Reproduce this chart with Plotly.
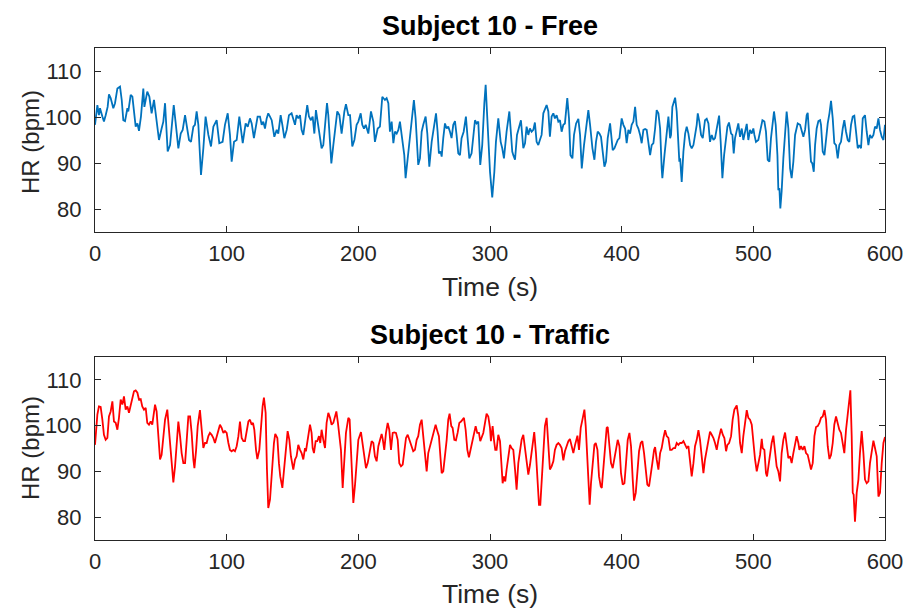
import plotly.graph_objects as go

# ---------------- data ----------------
free_t = [0, 1.8, 3.0, 3.8, 5.6, 6.8, 8.1, 9.6, 10.6, 11.9, 13.9, 15.2, 17.0, 19.0, 20.3, 21.5, 22.8, 24.6, 25.3, 27.1,
          28.4, 29.9, 30.9, 32.2, 33.4, 34.9, 36.7, 37.5, 38.5, 39.7, 41.3, 43.0, 44.8, 46.1, 47.6, 48.6, 50.6, 51.9, 53.2, 54.4,
          55.2, 57.0, 58.7, 59.8, 61.3, 63.3, 65.1, 66.6, 68.4, 69.6, 71.4, 72.9, 74.7, 75.9, 77.2, 78.5, 79.7, 80.5, 82.3, 84.0,
          86.1, 88.1, 89.9, 92.4, 94.4, 96.9, 98.7, 100.8, 102.5, 103.8, 105.6, 107.6, 109.6, 112.2, 114.4, 116.0, 117.7,
          119.0, 120.7, 122.0, 123.5, 125.3, 126.6, 127.8, 129.1, 130.4, 131.6, 132.9, 134.2, 136.2, 138.0, 139.2, 141.0, 142.3,
          143.8, 145.6, 147.3, 149.3, 150.6, 151.9, 153.1, 154.4, 155.7, 156.9, 158.2, 159.5, 161.2, 162.5, 164.0, 165.3, 166.6,
          167.8, 169.1, 170.9, 172.1, 173.4, 174.7, 176.2, 177.2, 178.5, 179.5, 181.0, 182.8, 184.0, 185.6, 187.3, 189.4, 190.6,
          192.4, 193.7, 195.4, 197.0, 198.7, 200.0, 201.8, 203.0, 204.3, 205.6, 207.6, 209.6, 211.4, 212.6, 214.7, 216.4, 218.2,
          220.2, 221.5, 222.8, 224.0, 225.3, 226.6, 227.8, 229.1, 230.4, 231.6, 232.9, 234.9, 235.9, 237.5,
          239.2, 240.5, 242.2, 243.5, 244.8, 245.5, 246.8, 248.1, 249.3, 251.1, 252.4, 253.9, 255.7, 257.7, 259.0, 260.2, 261.2,
          262.5, 263.3, 264.5, 265.8, 267.1, 268.3, 269.6, 270.8, 272.1, 273.4, 274.6, 275.9, 277.2, 278.4, 280.0, 281.7, 283.0,
          284.3, 286.0, 287.3, 288.6, 289.8, 291.1, 292.6, 294.1, 295.7, 296.7, 297.7, 298.7, 300.0, 301.7, 303.3, 304.5, 306.3,
          308.1, 309.3, 310.6, 312.6, 314.7, 315.9, 316.9, 317.7, 319.0, 320.5, 321.7, 323.5, 325.3, 326.6, 327.8, 329.1, 330.3,
          331.6, 332.9, 334.1, 335.4, 336.7, 337.9, 339.2, 340.5, 341.7, 343.0, 344.3, 345.5, 346.8, 348.1, 349.3, 350.6, 351.9,
          353.1, 354.4, 355.7, 356.9, 358.7, 360.0, 361.1,
          362.6, 363.8, 365.4, 367.1, 368.4, 369.7, 371.4, 373.0, 374.7, 376.0, 377.8, 379.3, 380.5, 381.8, 383.1, 384.3, 385.6,
          386.9, 388.1, 389.4, 391.2, 392.4, 393.2, 394.5, 395.5, 397.0, 398.3, 400.0, 401.3, 402.6, 403.8, 405.1, 406.4, 407.6,
          408.9, 410.2, 411.4, 412.7, 414.0, 415.2, 416.5, 417.8, 419.0, 420.3, 421.6, 422.8, 424.1, 425.4, 426.6, 427.9, 429.2,
          430.4, 430.9, 432.5, 434.2, 435.5, 436.8, 437.5, 438.5, 439.8, 440.6, 441.8, 443.1, 443.8, 444.4, 445.6, 446.9, 448.2,
          449.4, 450.7, 452.0, 453.2, 454.5, 455.7, 457.0, 457.8, 459.0, 460.3, 461.6, 463.3, 464.6, 465.9, 467.1, 468.4, 469.7,
          470.9, 472.2, 474.0, 475.2, 476.5, 477.8, 479.0, 480.3,
          481.5, 483.1, 484.1, 485.1, 486.1, 487.4, 488.6, 489.9, 491.2, 492.4, 493.7, 495.0, 496.2, 497.5, 498.8, 500.0, 500.8,
          502.0, 503.8, 505.8, 506.9, 508.4, 509.6, 510.9, 512.2, 513.4, 514.7, 515.7, 517.0, 518.3, 519.0, 519.8, 520.5, 521.5,
          522.8, 524.1, 525.3, 526.6, 527.9, 529.1, 530.4, 531.7, 533.7, 535.5, 536.7, 538.0, 539.3, 540.5, 541.3, 542.6, 543.8,
          544.8, 545.9, 546.9, 548.1, 549.4, 550.7, 551.4, 552.7, 554.0, 555.2, 556.5, 557.8, 559.0, 560.3, 561.5, 562.8, 564.1,
          565.3, 566.6, 567.9, 569.1, 570.4, 571.7, 572.9, 574.2, 575.5, 576.7, 578.0, 579.3, 580.5, 581.8, 583.1, 584.8, 586.1,
          587.4, 588.6, 589.9, 591.2, 592.4, 593.7, 595.0, 596.2, 597.5, 598.8, 600.0]
free_hr = [98.3, 102.6, 100.4, 101.9, 100.1, 99.0, 100.4, 102.2, 104.9, 104.1, 101.9, 103.0, 106.2, 106.6, 103.7, 99.3, 99.1, 101.9, 101.2, 104.8,
           104.4, 100.4, 97.9, 98.6, 97.0, 100.1, 106.2, 102.2, 104.1, 105.5, 104.4, 100.8, 103.7, 100.4, 96.4, 95.0, 97.5, 99.0, 103.0, 97.2,
           92.5, 93.9, 98.3, 102.6, 98.6, 93.2, 96.4, 97.2, 100.4, 97.9, 95.0, 94.6, 97.9, 98.3, 101.2, 98.3, 91.0, 87.4, 93.2, 100.1,
           96.1, 93.6, 97.9, 99.3, 94.3, 94.6, 98.3, 100.8, 96.1, 90.3, 94.6, 95.0, 100.1, 94.3, 98.6, 97.9, 99.7,
           98.6, 95.4, 97.5, 100.1, 100.1, 98.3, 99.0, 97.5, 99.7, 100.8, 100.1, 99.3, 95.7, 97.2, 96.4, 100.4, 98.3,
           95.4, 97.2, 100.4, 100.8, 99.3, 98.3, 100.4, 99.7, 100.4, 97.2, 96.1, 99.0, 102.6, 100.1, 99.3, 100.1, 96.4,
           101.5, 99.0, 96.1, 93.2, 93.9, 98.3, 103.0, 100.4, 92.5, 89.9, 93.9, 99.0, 101.2, 100.4, 96.4, 101.2, 102.8,
           100.4, 100.4, 93.6, 95.0, 98.3, 99.0, 100.8, 98.3, 97.5, 98.3, 96.4, 101.2, 99.0, 94.6, 97.5, 97.9, 104.4,
           103.7, 104.1, 103.0, 96.8, 99.0, 94.3, 96.8, 96.4, 97.2, 99.0, 95.7, 91.7, 86.7, 91.0,
           95.4, 99.0, 103.7, 99.7, 91.7, 89.6, 91.0, 96.8, 98.3, 100.1, 96.4, 89.2, 94.6, 98.3, 100.8, 96.8, 92.1,
           92.5, 91.4, 95.4, 98.6, 97.5, 97.9, 96.8, 95.4, 98.3, 99.1, 96.1, 92.1, 91.7, 95.4, 96.8, 100.1, 95.4,
           91.0, 92.1, 96.1, 99.3, 98.6, 99.0, 89.6, 93.9, 103.0, 107.0, 101.2, 93.9, 88.1, 82.5, 88.1, 94.6, 99.7,
           94.6, 93.2, 91.0, 96.8, 101.2, 95.4, 92.5, 91.7, 90.7, 96.1, 97.2, 99.3, 93.2, 94.3, 97.9, 96.1, 97.5,
           96.8, 97.2, 98.8, 94.6, 93.9, 95.0, 96.1, 100.8, 101.5, 102.6, 101.2, 95.7, 100.1, 100.8, 99.7, 100.4, 99.0,
           99.3, 96.8, 98.3, 98.6, 104.1, 99.7, 91.7,
           91.0, 96.1, 98.6, 99.6, 96.1, 88.8, 93.9, 97.9, 101.5, 98.3, 93.2, 90.7, 94.6, 96.8, 96.4, 95.7, 92.5,
           89.2, 90.3, 95.4, 98.6, 94.6, 92.8, 93.2, 93.9, 95.0, 95.4, 99.7, 98.3, 97.5, 94.3, 97.2, 96.4, 98.3,
           99.0, 102.2, 98.3, 97.5, 96.1, 94.3, 97.2, 97.4, 97.2, 93.9, 91.7, 93.9, 94.3, 97.5, 101.5, 100.8, 97.5,
           88.8, 86.7, 91.7, 97.5, 100.1, 95.4, 96.1, 102.2, 103.7, 104.2, 101.2, 91.7, 90.3, 91.0, 85.9, 92.5, 96.4,
           97.9, 96.4, 93.9, 93.2, 93.9, 95.7, 98.3, 100.8, 99.0, 96.1, 95.4, 99.3, 99.6, 98.6, 94.6, 96.1, 95.0,
           95.4, 97.2, 100.3, 94.6, 86.7, 91.7, 94.6, 97.9,
           98.8, 96.4, 96.1, 92.1, 95.4, 97.2, 98.6, 95.7, 97.5, 95.0, 97.2, 98.5, 95.0, 97.2, 96.4, 97.5, 96.1,
           94.6, 95.0, 97.9, 99.3, 99.0, 96.8, 90.7, 90.3, 95.4, 99.0, 101.2, 98.3, 91.7, 84.1, 84.5, 80.1, 83.8,
           91.0, 97.5, 101.2, 97.5, 88.8, 86.7, 90.3, 96.1, 98.6, 98.3, 96.8, 95.7, 97.2, 100.4, 100.9, 95.4, 90.3,
           89.9, 88.1, 93.9, 97.5, 99.1, 99.3, 98.3, 92.5, 91.7, 95.7, 98.6, 100.8, 103.5, 99.7, 94.3, 93.9, 91.0,
           93.9, 94.6, 97.5, 99.3, 96.8, 95.0, 94.6, 98.3, 100.1, 100.3, 96.8, 93.2, 93.9, 93.2, 99.7, 100.4, 96.8,
           93.9, 96.1, 95.4, 96.1, 97.9, 97.5, 99.7, 97.2, 95.7, 95.0, 98.3]

traffic_t = [0, 0.8, 1.8, 3.0, 4.3, 5.6, 6.8, 8.1, 9.4, 10.6, 11.9, 13.2, 14.4, 15.7, 17.0, 18.2, 19.5, 20.8, 22.0, 23.3,
             24.6, 25.8, 27.1, 28.4, 29.6, 30.9, 32.2, 33.4, 34.7, 35.9, 37.2, 38.5, 39.7, 41.0, 42.3, 43.5, 44.8, 45.6, 46.8, 48.1,
             49.4, 50.6, 51.9, 53.2, 54.9, 56.2, 57.5, 58.7, 59.5, 60.8, 62.0, 63.3, 64.6, 65.8, 67.1, 68.4, 69.6, 70.9, 72.2, 73.4,
             74.7, 75.5, 76.8, 78.0, 79.7, 81.0, 82.3, 83.5, 84.8, 86.1, 87.3, 88.6, 89.9, 91.1, 92.4, 93.7, 94.9, 96.2, 97.5, 98.7,
             100.0, 101.3, 102.5, 103.8, 105.1, 106.3, 107.6, 108.9, 110.1, 111.4, 112.7, 113.9, 115.2, 116.5, 117.7,
             118.2, 119.0, 120.0, 121.0, 122.3, 123.3, 124.8, 126.1, 127.3, 128.3, 129.6, 130.6, 131.6, 132.9, 134.2, 135.9, 136.9,
             138.5, 139.7, 140.7, 142.3, 143.5, 145.0, 146.3, 147.6, 148.8, 150.6, 151.9, 153.1, 154.4, 155.7, 156.9, 158.2, 159.5,
             160.2, 161.5, 163.3, 164.5, 165.3, 166.3, 167.6, 168.8, 170.1, 171.1, 172.1, 173.4, 174.7, 175.9, 177.2, 178.5, 179.7,
             181.0, 182.3, 183.3, 184.5, 185.8, 186.8, 188.1, 189.4, 190.6, 192.4, 193.4, 194.4, 195.4, 196.2, 197.5, 198.7, 200.0,
             202.0, 203.3, 204.5, 205.8, 207.1, 208.8, 210.1, 211.4, 212.6, 213.9, 215.2, 216.4, 217.7, 218.5, 219.7, 221.0, 222.3,
             223.5, 224.8, 226.1, 227.3, 228.6, 229.9, 231.1, 232.4, 233.7, 234.9, 236.2, 237.5, 238.7,
             240.5, 241.7, 243.0, 244.3, 245.5, 246.8, 248.1, 249.3, 250.6, 251.9, 253.1, 254.4, 255.7, 256.9, 258.7, 260.0, 261.2,
             262.5, 263.3, 264.5, 265.8, 267.1, 268.3, 269.3, 270.6, 271.6, 272.9, 274.1, 275.4, 276.7, 278.0, 279.2, 280.2, 281.5,
             282.8, 284.0, 285.3, 286.5, 287.8, 289.1, 290.3, 291.6, 292.6, 293.6, 294.9, 296.2, 297.4, 298.7, 300.0, 300.7, 302.0,
             303.0, 304.0, 305.0, 306.3, 307.6, 308.8, 309.6, 310.6, 311.6, 312.6, 313.9, 315.2, 316.4, 317.7, 319.0, 320.2, 321.5,
             322.8, 324.0, 325.3, 326.6, 327.8, 329.1, 330.4, 331.6, 332.9, 333.6, 334.9, 336.2, 337.2, 338.2, 339.2, 340.5, 341.7,
             343.0, 344.3, 345.5, 346.8, 348.1, 349.3, 350.6, 351.9, 353.1, 354.4, 355.7, 356.9, 358.2, 359.5, 360.7,
             362.1, 363.3, 364.6, 366.4, 367.6, 368.9, 370.2, 371.7, 372.7, 374.0, 375.2, 375.7, 376.7, 378.0, 379.3, 380.3, 381.6,
             382.8, 384.1, 384.9, 386.1, 387.4, 388.6, 389.4, 390.7, 391.9, 393.2, 394.5, 395.7, 397.0, 398.3, 399.5, 400.8, 402.1,
             403.3, 404.6, 405.9, 407.1, 408.4, 409.4, 410.7, 411.9, 413.2, 414.5, 415.7, 417.0, 418.3, 419.5, 420.8, 422.1, 423.3,
             424.6, 425.4, 426.6, 427.9, 429.2, 430.4, 431.7, 433.0, 434.2, 435.5, 436.8, 438.0, 439.3, 440.6, 441.8, 443.1, 444.4,
             445.6, 446.9, 448.2, 449.4, 450.7, 452.0, 453.2, 454.5, 455.7, 457.0, 458.3, 459.5, 460.8, 462.1, 463.3, 464.6, 465.9,
             467.1, 468.4, 469.7, 470.9, 472.2, 473.5, 474.7, 475.5, 476.8, 478.0, 479.3, 480.3, 481.6,
             483.1, 484.3, 485.6, 487.4, 488.6, 489.9, 491.2, 492.4, 493.7, 495.0, 496.2, 497.5, 498.8, 500.0, 501.3, 502.6, 503.8,
             505.1, 506.4, 507.1, 508.4, 509.6, 510.4, 511.7, 512.9, 513.9, 515.2, 516.5, 517.7, 519.0, 520.3, 521.5, 522.8, 524.1,
             525.3, 526.6, 527.9, 529.1, 530.4, 531.7, 532.9, 534.2, 535.0, 536.2, 537.5, 538.8, 540.0, 541.3, 542.6, 543.8, 545.1,
             546.4, 547.6, 548.9, 550.2, 551.4, 552.7, 554.0, 555.2, 556.5, 557.8, 559.0, 560.3, 561.5, 562.8, 564.1, 565.3, 566.6,
             567.9, 569.1, 570.4, 571.7, 572.9, 573.7, 574.7, 575.5, 576.2, 577.2, 578.5, 579.8, 581.0, 582.3, 583.6, 584.8, 586.1,
             587.4, 588.6, 589.9, 591.2, 592.4, 593.7, 595.0, 596.2, 597.5, 598.8, 600.0]
traffic_hr = [95.8, 98.4, 102.4, 104.2, 104.1, 101.3, 98.0, 96.9, 97.3, 102.0, 103.1, 105.3, 100.9, 100.6, 99.1, 101.7, 105.7, 104.6, 106.4, 103.5,
              104.2, 102.8, 104.6, 106.4, 107.5, 107.7, 107.2, 105.7, 105.8, 104.2, 103.5, 103.9, 100.6, 100.2, 100.9, 100.2, 103.5, 104.6, 103.1, 96.9,
              92.6, 93.6, 98.4, 101.3, 103.5, 99.1, 94.7, 90.7, 87.6, 91.1, 96.9, 100.9, 97.7, 94.0, 91.8, 91.8, 96.6, 102.0, 102.0, 98.4,
              92.6, 90.7, 94.7, 99.9, 103.4, 98.4, 95.1, 96.2, 96.2, 97.7, 98.4, 98.0, 97.3, 96.2, 97.7, 99.1, 100.2, 99.5, 98.4, 98.8,
              98.4, 96.2, 94.7, 94.4, 94.7, 94.4, 95.5, 97.7, 100.9, 97.3, 96.6, 96.6, 98.4, 100.9, 101.3,
              100.6, 100.2, 100.6, 99.1, 94.7, 92.7, 94.7, 99.9, 104.2, 106.1, 102.8, 90.4, 82.0, 83.8, 90.4, 96.2, 98.2,
              97.3, 91.8, 88.9, 86.4, 90.4, 96.2, 98.8, 96.9, 93.3, 90.4, 92.6, 93.3, 95.8, 94.7, 94.0, 92.6, 95.1,
              94.4, 97.3, 100.2, 98.4, 95.1, 94.0, 96.6, 96.6, 97.7, 96.2, 99.1, 96.9, 95.1, 100.6, 102.8, 101.7, 100.2,
              100.6, 102.0, 103.1, 100.6, 96.2, 94.7, 86.4, 91.8, 98.4, 101.7, 101.3, 94.7, 87.8, 83.1, 87.1, 92.6, 96.9,
              98.6, 96.2, 94.0, 90.7, 91.8, 94.7, 96.6, 96.2, 93.3, 92.2, 95.5, 96.8, 98.2, 97.1, 94.7, 98.4, 100.6,
              99.1, 94.7, 98.4, 98.5, 98.4, 96.9, 91.8, 91.1, 91.5, 94.7, 97.3, 98.0, 96.9,
              95.5, 94.4, 94.7, 96.9, 97.7, 100.2, 101.3, 97.7, 94.0, 90.0, 94.0, 95.5, 96.6, 98.4, 100.2, 98.8, 97.7,
              92.6, 89.6, 90.0, 93.3, 96.9, 101.3, 102.6, 99.9, 99.5, 96.9, 96.8, 98.4, 100.6, 100.9, 101.3, 101.7, 99.1,
              94.7, 93.1, 94.7, 96.6, 98.4, 99.9, 98.4, 98.4, 96.6, 97.3, 98.4, 100.6, 102.6, 102.0, 99.5, 96.6, 99.9,
              96.9, 94.7, 94.7, 98.0, 96.6, 91.8, 87.4, 88.9, 87.8, 90.4, 93.3, 95.8, 95.1, 94.7, 90.4, 86.0, 91.8,
              94.7, 96.9, 98.0, 94.7, 91.5, 89.3, 91.5, 94.0, 96.9, 98.6, 94.0, 88.2, 82.7, 82.7, 87.4, 95.5, 99.9,
              101.7, 96.2, 90.4, 91.1, 92.2, 94.7, 95.8, 96.2, 95.8, 95.1, 92.4, 94.4, 95.8, 96.6, 97.1,
              95.5, 94.0, 95.8, 97.8, 94.7, 99.5, 101.3, 103.5, 99.9, 91.8, 85.3, 82.7, 87.4, 92.6, 95.8, 96.2, 94.7,
              88.9, 86.7, 86.4, 91.1, 95.5, 99.5, 99.7, 95.5, 91.8, 90.7, 92.6, 94.7, 96.9, 95.5, 89.6, 87.1, 87.4,
              91.8, 96.9, 98.4, 95.5, 88.2, 83.6, 85.3, 90.4, 94.4, 96.2, 96.6, 94.0, 89.6, 87.1, 86.7, 88.9, 91.8,
              94.7, 95.3, 92.6, 90.4, 94.0, 95.1, 97.3, 99.0, 97.7, 97.3, 94.7, 94.7, 95.1, 95.1, 96.2, 95.8, 96.2,
              96.2, 96.6, 95.8, 95.1, 95.5, 92.6, 88.9, 91.8, 95.5, 96.9, 99.0, 96.9, 93.3, 89.6, 92.6, 94.7, 96.9,
              98.7, 98.0, 97.3, 96.2, 94.7, 96.9, 98.4, 99.3, 98.0, 97.3, 94.4, 95.8, 96.2,
              97.7, 101.3, 103.5, 104.4, 102.0, 96.2, 94.0, 97.7, 101.3, 103.4, 101.7, 101.3, 100.2, 96.2, 92.6, 90.0, 91.8,
              93.6, 97.1, 95.1, 94.7, 89.6, 88.9, 91.8, 94.7, 96.2, 97.8, 94.0, 91.1, 90.0, 87.8, 94.0, 96.9, 98.5,
              96.2, 92.9, 93.3, 91.8, 94.0, 95.8, 97.7, 96.2, 94.7, 95.5, 94.7, 95.5, 94.0, 93.6, 91.8, 90.4, 91.8,
              97.7, 99.7, 99.9, 100.6, 101.7, 102.0, 103.4, 101.3, 95.5, 92.7, 93.6, 96.2, 100.2, 102.0, 100.6, 99.1, 98.4,
              96.2, 94.0, 99.1, 102.8, 106.4, 107.7, 97.7, 85.3, 84.9, 79.0, 85.3, 88.2, 94.0, 98.8, 94.0, 88.2, 87.4,
              87.8, 91.8, 94.7, 96.7, 95.1, 93.3, 84.5, 85.3, 91.8, 96.2, 97.5]

x_ticks = [0, 100, 200, 300, 400, 500, 600]
y_ticks = [80, 90, 100, 110]
titles = ["Subject 10 - Free", "Subject 10 - Traffic"]

# ---------------- figure ----------------
FONT = "Liberation Sans, Arial, Helvetica, sans-serif"
AXC = "#262626"
OFF = 0  # body margin removed by the post script below

W, HT = 908, 608
# target plot-area edges in screen pixels
S_L, S_R = 95, 885
S_T1, S_B1 = 48, 232
S_T2, S_B2 = 357, 540

L = S_L - OFF
R = W - (S_R - OFF)
T = S_T1 - OFF
B = HT - (S_B2 - OFF)
H = HT - T - B
PW = W - L - R


def py(screen_y):
    return (HT - B - (screen_y - OFF)) / H


def px(screen_x):
    return (screen_x - OFF - L) / PW


fig = go.Figure()
fig.add_trace(go.Scatter(x=free_t, y=free_hr, mode="lines", line=dict(color="#0072BD", width=1.8),
                         xaxis="x", yaxis="y", showlegend=False, hoverinfo="x+y"))
fig.add_trace(go.Scatter(x=traffic_t, y=traffic_hr, mode="lines", line=dict(color="#FF0000", width=1.8),
                         xaxis="x2", yaxis="y2", showlegend=False, hoverinfo="x+y"))

ax_common = dict(showline=True, linecolor=AXC, linewidth=1, mirror="ticks", ticks="inside",
                 ticklen=6, tickcolor=AXC, showgrid=False, zeroline=False,
                 tickfont=dict(family=FONT, size=22, color=AXC))

fig.update_layout(
    width=W, height=HT,
    margin=dict(l=L, r=R, t=T, b=B, autoexpand=False),
    paper_bgcolor="white", plot_bgcolor="white",
    xaxis=dict(domain=[0, 1], range=[0, 600], tickvals=x_ticks, anchor="y", ticklabelstandoff=2, **ax_common),
    yaxis=dict(domain=[py(S_B1), 1], range=[75, 115], tickvals=y_ticks, anchor="x", ticklabelstandoff=8, **ax_common),
    xaxis2=dict(domain=[0, 1], range=[0, 600], tickvals=x_ticks, anchor="y2", ticklabelstandoff=2, **ax_common),
    yaxis2=dict(domain=[0, py(S_T2)], range=[75, 115], tickvals=y_ticks, anchor="x2", ticklabelstandoff=8, **ax_common),
)

ann = []
for title, ty, xl_y, yl_y in [(titles[0], 26, 287, 142), (titles[1], 335, 594, 448)]:
    ann.append(dict(text="<b>%s</b>" % title, x=0.5, y=py(ty), xref="paper", yref="paper",
                    xanchor="center", yanchor="middle", showarrow=False,
                    font=dict(family=FONT, size=27, color="black")))
    ann.append(dict(text="Time (s)", x=0.5, y=py(xl_y), xref="paper", yref="paper",
                    xanchor="center", yanchor="middle", showarrow=False,
                    font=dict(family=FONT, size=26.5, color=AXC)))
    ann.append(dict(text="HR (bpm)", x=px(30), y=py(yl_y), xref="paper", yref="paper",
                    xanchor="center", yanchor="middle", showarrow=False, textangle=-90,
                    font=dict(family=FONT, size=24, color=AXC)))
fig.update_layout(annotations=ann)

fig.write_html("out.html",
               config={"displayModeBar": False},
               post_script="document.body.style.margin='0';document.body.style.overflow='hidden';")
